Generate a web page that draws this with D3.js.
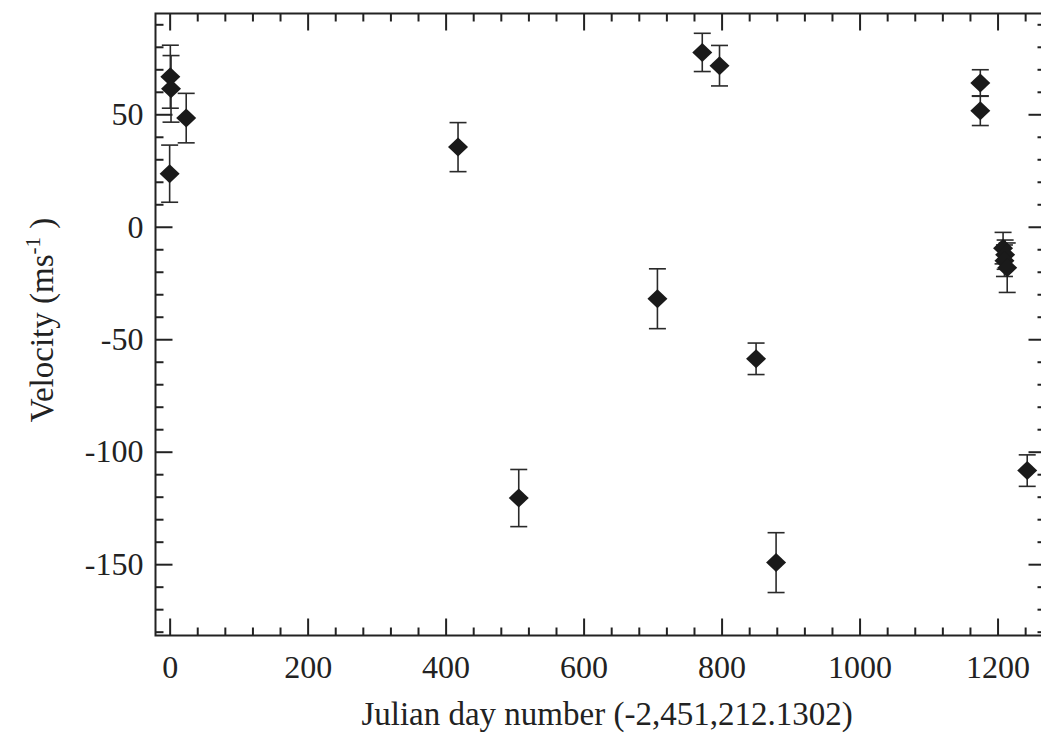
<!DOCTYPE html>
<html>
<head>
<meta charset="utf-8">
<script src="https://cdn.jsdelivr.net/npm/d3@7"></script>
<style>
  html, body { margin: 0; padding: 0; background: #fff; }
  svg { display: block; }
  text { font-family: "Liberation Serif", "Times New Roman", serif; fill: #222; }
</style>
</head>
<body>
<svg id="chart" width="1041" height="734"></svg>
<script>
// Radial-velocity measurements: day offset, velocity (m/s) and 1-sigma error
const days       = [0, 1, 2, 24, 418, 506, 707, 772, 797, 850, 879, 1175, 1175, 1208, 1211, 1210, 1214, 1243];
const velocities = [23.6, 66.7, 61.3, 48.3, 35.4, -120.6, -32.0, 77.5, 71.6, -58.7, -149.3, 63.9, 51.6, -9.5, -12.4, -15.1, -18.2, -108.4];
const errors     = [12.7, 14.0, 14.8, 11.0, 10.9, 12.7, 13.3, 8.5, 9.0, 7.0, 13.3, 5.9, 6.6, 7.0, 6.5, 7.0, 11.0, 7.0];

const xMajorTicks = [0, 200, 400, 600, 800, 1000, 1200];
const yMajorTicks = [-150, -100, -50, 0, 50];

const xLabel = "Julian day number (-2,451,212.1302)";

const svg = d3.select("#chart");
const plot = { left: 155.5, right: 1045.5, top: 13.5, bottom: 635.5 };

const x = d3.scaleLinear().domain([-20.5, 1269.5]).range([plot.left, plot.right]);
const y = d3.scaleLinear().domain([-181.7, 94.8]).range([plot.bottom, plot.top]);

const majorLen = 17, minorLen = 8;
const ink = "#222";
const fmt = v => String(v);   // plain hyphen for negatives

const xMinor = d3.range(0, 1270, 40).filter(v => v % 200 !== 0);
const yMinor = d3.range(-180, 95, 10).filter(v => v % 50 !== 0);

function styleAxis(g) {
  g.select(".domain").remove();
  g.selectAll(".tick line").attr("stroke", ink).attr("stroke-width", 2);
}
function styleLabels(g) {
  g.selectAll("text").attr("font-size", 32).attr("fill", ink).attr("font-family", "Liberation Serif");
}

// bottom axis (ticks pointing inward)
svg.append("g").attr("transform", `translate(0,${plot.bottom})`)
  .call(d3.axisBottom(x).tickValues(xMajorTicks).tickSize(-majorLen).tickPadding(20).tickFormat(fmt))
  .call(styleAxis).call(styleLabels);
svg.append("g").attr("transform", `translate(0,${plot.bottom})`)
  .call(d3.axisBottom(x).tickValues(xMinor).tickSize(-minorLen).tickFormat(""))
  .call(styleAxis);

// top axis
svg.append("g").attr("transform", `translate(0,${plot.top})`)
  .call(d3.axisTop(x).tickValues(xMajorTicks).tickSize(-majorLen).tickFormat(""))
  .call(styleAxis);
svg.append("g").attr("transform", `translate(0,${plot.top})`)
  .call(d3.axisTop(x).tickValues(xMinor).tickSize(-minorLen).tickFormat(""))
  .call(styleAxis);

// left axis
svg.append("g").attr("transform", `translate(${plot.left},0)`)
  .call(d3.axisLeft(y).tickValues(yMajorTicks).tickSize(-majorLen).tickPadding(12).tickFormat(fmt))
  .call(styleAxis).call(styleLabels);
svg.append("g").attr("transform", `translate(${plot.left},0)`)
  .call(d3.axisLeft(y).tickValues(yMinor).tickSize(-minorLen).tickFormat(""))
  .call(styleAxis);

// right axis
svg.append("g").attr("transform", `translate(${plot.right},0)`)
  .call(d3.axisRight(y).tickValues(yMajorTicks).tickSize(-majorLen).tickFormat(""))
  .call(styleAxis);
svg.append("g").attr("transform", `translate(${plot.right},0)`)
  .call(d3.axisRight(y).tickValues(yMinor).tickSize(-minorLen).tickFormat(""))
  .call(styleAxis);

// frame
svg.append("rect")
  .attr("x", plot.left).attr("y", plot.top)
  .attr("width", plot.right - plot.left).attr("height", plot.bottom - plot.top)
  .attr("fill", "none").attr("stroke", ink).attr("stroke-width", 2);

// error bars
const data = days.map((d, i) => ({ day: d, v: velocities[i], e: errors[i] }));
const capHalf = 8.5;
const bars = svg.append("g").attr("stroke", "#2a2a2a").attr("stroke-width", 1.6);
data.forEach(d => {
  const cx = x(d.day), y0 = y(d.v - d.e), y1 = y(d.v + d.e);
  bars.append("line").attr("x1", cx).attr("x2", cx).attr("y1", y0).attr("y2", y1);
  bars.append("line").attr("x1", cx - capHalf).attr("x2", cx + capHalf).attr("y1", y0).attr("y2", y0);
  bars.append("line").attr("x1", cx - capHalf).attr("x2", cx + capHalf).attr("y1", y1).attr("y2", y1);
});

// diamond markers
const hw = 10, hh = 9.5;
svg.append("g").selectAll("path").data(data).join("path")
  .attr("d", d => {
    const cx = x(d.day), cy = y(d.v);
    return `M${cx},${cy - hh}L${cx + hw},${cy}L${cx},${cy + hh}L${cx - hw},${cy}Z`;
  })
  .attr("fill", "#1a1a1a");

// axis titles
svg.append("text")
  .attr("x", 607).attr("y", 725)
  .attr("text-anchor", "middle").attr("font-size", 33)
  .text(xLabel);

const yt = svg.append("text")
  .attr("transform", `translate(53,320) rotate(-90)`)
  .attr("text-anchor", "middle").attr("font-size", 33);
yt.append("tspan").text("Velocity (ms");
yt.append("tspan").attr("font-size", 21).attr("dy", -13).text("-1");
yt.append("tspan").attr("dy", 13).text(" )");
</script>
</body>
</html>
